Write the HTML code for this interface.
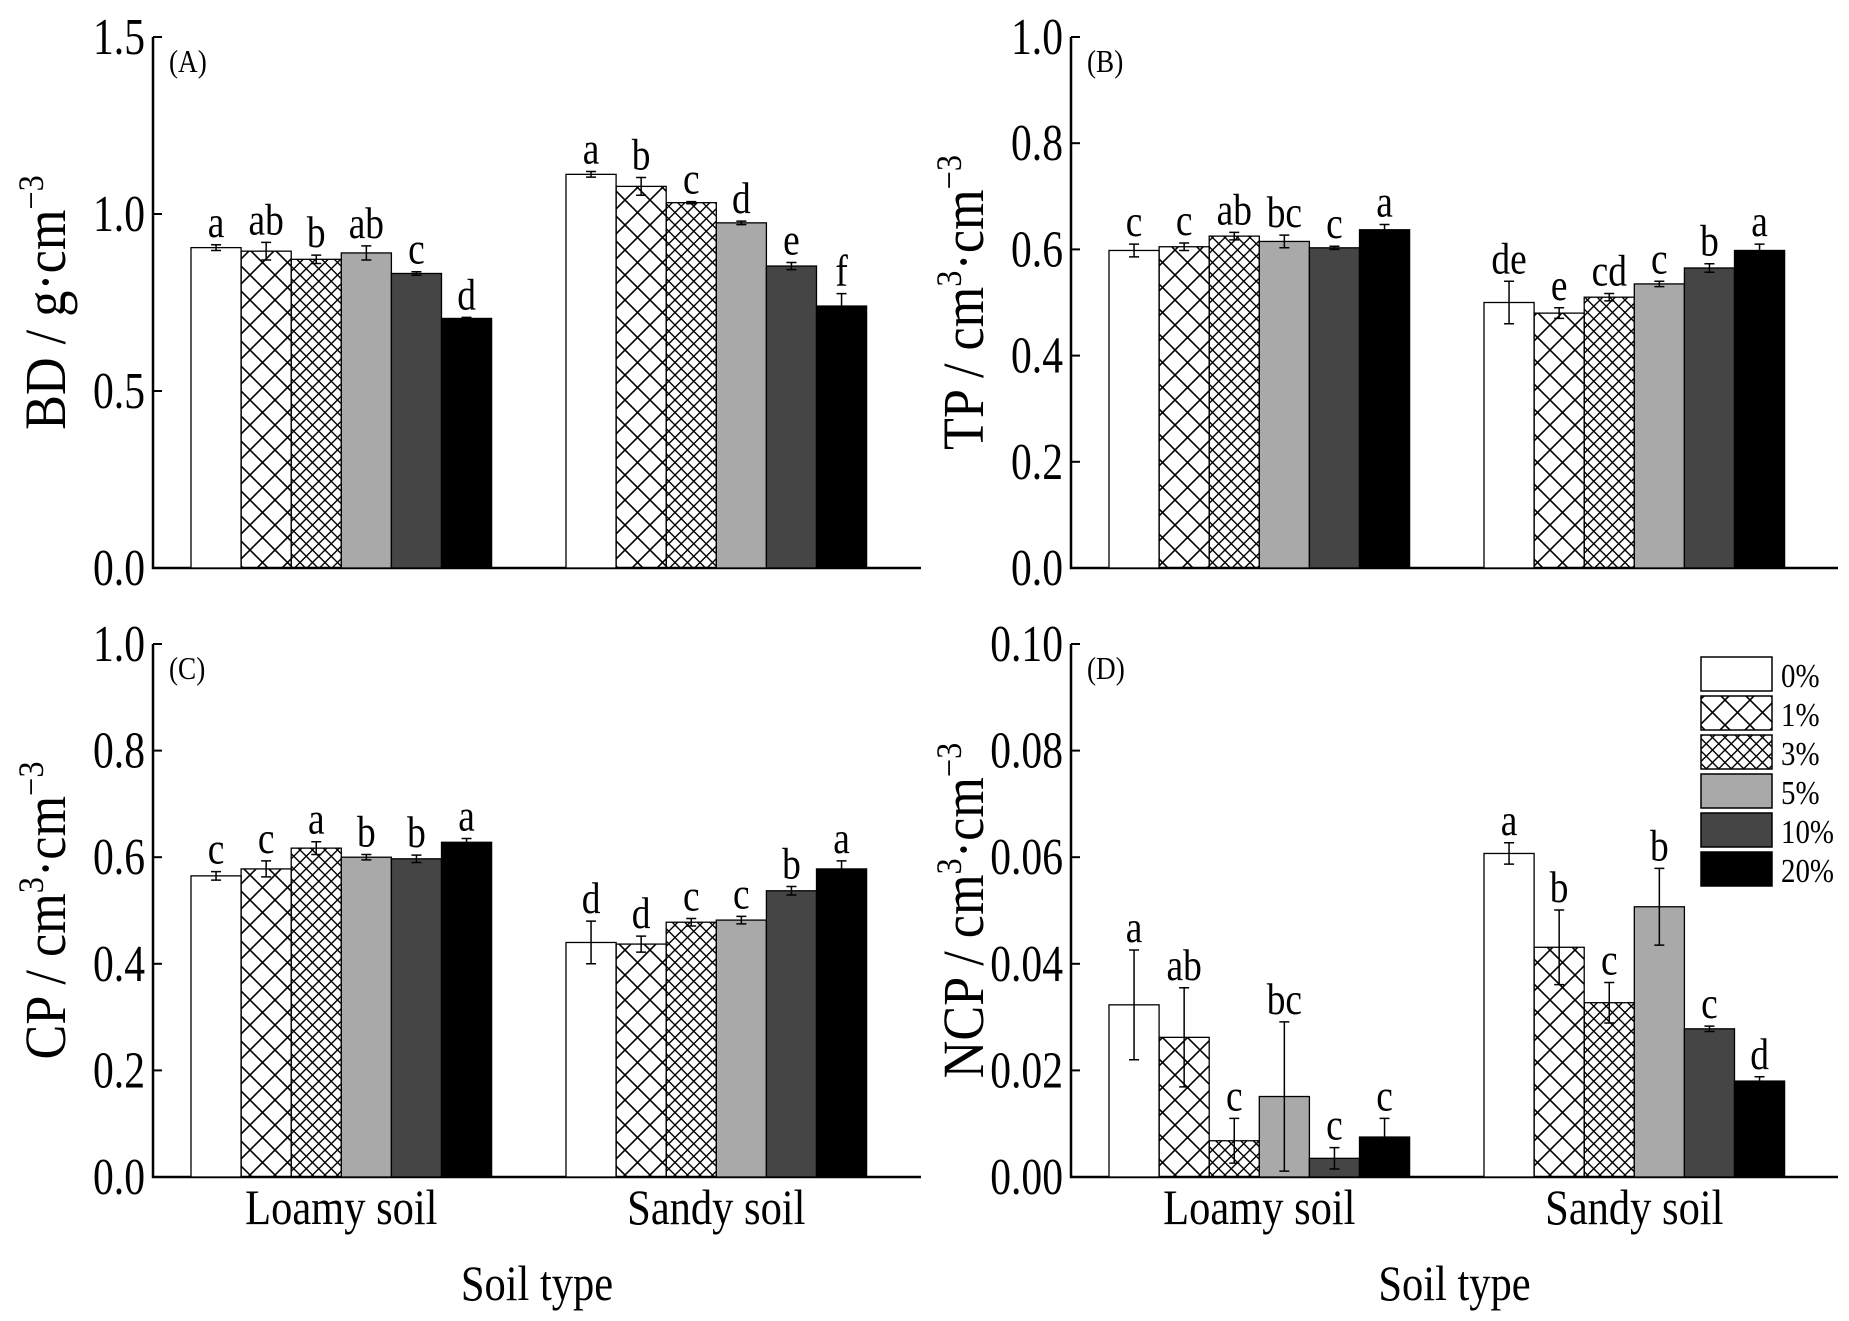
<!DOCTYPE html>
<html><head><meta charset="utf-8"><style>
html,body{margin:0;padding:0;background:#fff}
svg{display:block}
text{font-family:"Liberation Serif",serif;fill:#000}
</style></head><body>
<svg id="fig" width="1849" height="1321" viewBox="0 0 1849 1321" xmlns="http://www.w3.org/2000/svg">
<defs>
<pattern id="p1" patternUnits="userSpaceOnUse" width="25" height="25"><path d="M0,0L25,25M25,0L0,25" stroke="#000" stroke-width="1.6"/></pattern>
<pattern id="p3" patternUnits="userSpaceOnUse" width="12.5" height="12.5"><path d="M0,0L12.5,12.5M12.5,0L0,12.5" stroke="#000" stroke-width="1.4"/></pattern>
</defs>
</svg>
<script>
const categories=["Loamy soil","Sandy soil"];
const legendLabels=["0%","1%","3%","5%","10%","20%"];
const aLoamy=[0.905,0.895,0.872,0.89,0.832,0.705];
const aSandy=[1.112,1.078,1.032,0.975,0.853,0.74];
const aLoamyErr=[0.008,0.025,0.012,0.02,0.005,0.003];
const aSandyErr=[0.008,0.025,0.003,0.005,0.01,0.035];
const aLoamyLet=["a","ab","b","ab","c","d"];
const aSandyLet=["a","b","c","d","e","f"];
const bLoamy=[0.598,0.605,0.625,0.615,0.603,0.637];
const bSandy=[0.50,0.48,0.51,0.535,0.565,0.598];
const bLoamyErr=[0.012,0.007,0.007,0.012,0.003,0.01];
const bSandyErr=[0.04,0.01,0.007,0.005,0.008,0.012];
const bLoamyLet=["c","c","ab","bc","c","a"];
const bSandyLet=["de","e","cd","c","b","a"];
const cLoamy=[0.565,0.578,0.617,0.60,0.597,0.628];
const cSandy=[0.44,0.437,0.478,0.482,0.537,0.578];
const cLoamyErr=[0.008,0.015,0.012,0.005,0.007,0.007];
const cSandyErr=[0.04,0.015,0.007,0.007,0.008,0.015];
const cLoamyLet=["c","c","a","b","b","a"];
const cSandyLet=["d","d","c","c","b","a"];
const dLoamy=[0.0323,0.0262,0.0068,0.0151,0.0035,0.0075];
const dSandy=[0.0607,0.0431,0.0327,0.0507,0.0278,0.018];
const dLoamyErr=[0.0103,0.0093,0.0042,0.014,0.002,0.0035];
const dSandyErr=[0.002,0.007,0.0038,0.0072,0.0005,0.0008];
const dLoamyLet=["a","ab","c","bc","c","c"];
const dSandyLet=["a","b","c","b","c","d"];
const aTicks=["0.0","0.5","1.0","1.5"];
const bTicks=["0.0","0.2","0.4","0.6","0.8","1.0"];
const dTicks=["0.00","0.02","0.04","0.06","0.08","0.10"];

const NS="http://www.w3.org/2000/svg";
const svg=document.getElementById('fig');
const fills=["#fff","url(#p1)","url(#p3)","#a9a9a9","#454545","#000"];
function mk(tag,attrs,parent){const e=document.createElementNS(NS,tag);for(const k in attrs)e.setAttribute(k,attrs[k]);(parent||svg).appendChild(e);return e;}
function txt(parent,x,y,size,sx,anchor,content,rot){
  const t=mk('text',{transform:`translate(${x},${y})`+(rot?' rotate(-90)':'')+` scale(${sx},1)`,'text-anchor':anchor,'font-size':size},parent);
  t.innerHTML=content;return t;
}

function panel(o){
  const g=mk('g',{});
  
  
  const y=v=>o.y0-(v/o.max)*(o.y0-o.y1);
  const ax=mk('path',{d:`M${o.x0},${o.y1}V${o.y0}H${o.x2}`,stroke:'#000','stroke-width':2.5,fill:'none'},g);
  
  
  o.ticks.forEach((t,i)=>{
    const v=o.max*i/(o.ticks.length-1);const yy=y(v);
    mk('line',{x1:o.x0,x2:o.x0+9,y1:yy,y2:yy,stroke:'#000','stroke-width':2},g);
    const tx=txt(g,o.x0-8,yy+17,52,0.8,'end',t);
    
    
  });
  const pl=txt(g,o.x0+16,o.y1+35,32,0.85,'start',o.label);
  
  
  const yt=txt(g,o.x0-88,(o.y0+o.y1)/2,58,0.9,'middle',o.ytitle,true);
  
  
  const bw=50.1;
  [[o.l,o.le,o.ll,o.x0+38],[o.s,o.se,o.sl,o.x0+413]].forEach(([vals,errs,lets,sx],gi)=>{
    vals.forEach((v,i)=>{
      const x=sx+i*bw, top=y(v);
      const r=mk('rect',{x:x,y:top,width:bw,height:o.y0-top,fill:fills[i],stroke:'#000','stroke-width':1.3},g);
      
      
      const cx=x+bw/2, et=y(v+errs[i]), eb=y(v-errs[i]);
      mk('path',{d:`M${cx},${et}V${eb}M${cx-5},${et}H${cx+5}M${cx-5},${eb}H${cx+5}`,stroke:'#000','stroke-width':1.5,fill:'none'},g);
      const lt=txt(g,cx,et-8,44,0.85,'middle',lets[i]);
      
      
    });
    if(o.xl){
      const ct=txt(g,sx+3*bw,1224,50,0.85,'middle',categories[gi]);
      
      
    }
  });
  if(o.xl){
    const xt=txt(g,(o.x0+o.x2)/2,1300,50,0.85,'middle','Soil type');
    
    
  }
}
const cm='<tspan>cm</tspan><tspan dy="-22" font-size="36">3</tspan><tspan dy="22">·cm</tspan><tspan dy="-22" font-size="36">−3</tspan>';
panel({name:'panel-a',x0:153,x2:921,y0:568,y1:37,max:1.5,ticks:aTicks,label:'(A)',ytitle:'BD / g·cm<tspan dy="-22" font-size="36">−3</tspan>',l:aLoamy,le:aLoamyErr,ll:aLoamyLet,s:aSandy,se:aSandyErr,sl:aSandyLet});
panel({name:'panel-b',x0:1071,x2:1838,y0:568,y1:37,max:1.0,ticks:bTicks,label:'(B)',ytitle:'TP / '+cm,l:bLoamy,le:bLoamyErr,ll:bLoamyLet,s:bSandy,se:bSandyErr,sl:bSandyLet});
panel({name:'panel-c',x0:153,x2:921,y0:1177,y1:644,max:1.0,ticks:bTicks,label:'(C)',ytitle:'CP / '+cm,l:cLoamy,le:cLoamyErr,ll:cLoamyLet,s:cSandy,se:cSandyErr,sl:cSandyLet,xl:true});
panel({name:'panel-d',x0:1071,x2:1838,y0:1177,y1:644,max:0.10,ticks:dTicks,label:'(D)',ytitle:'NCP / '+cm,l:dLoamy,le:dLoamyErr,ll:dLoamyLet,s:dSandy,se:dSandyErr,sl:dSandyLet,xl:true});
const lg=mk('g',{});


legendLabels.forEach((l,i)=>{
  const yy=657+i*39;
  const r=mk('rect',{x:1701,y:yy,width:71,height:34,fill:fills[i],stroke:'#000','stroke-width':1.5},lg);
  
  
  const t=txt(lg,1781,yy+30,34,0.85,'start',l);
  
  
});
</script>
</body></html>
